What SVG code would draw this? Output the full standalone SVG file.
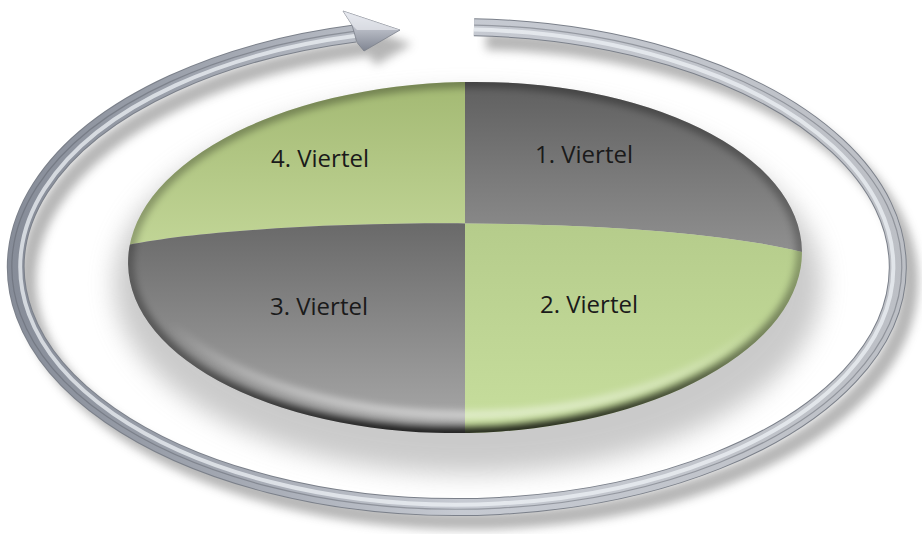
<svg xmlns="http://www.w3.org/2000/svg" xmlns:xlink="http://www.w3.org/1999/xlink" width="922" height="534" viewBox="0 0 922 534">
  <style>
    .label { font-family: "Open Sans", "Liberation Sans", sans-serif; font-size: 24px; fill: #1a1a1a; text-anchor: middle; }
    .ring { fill: none; }
  </style>
  <defs>
    <filter id="blurSoft" x="-20%" y="-30%" width="140%" height="160%"><feGaussianBlur stdDeviation="12"/></filter>
    <filter id="blurShadow" x="-10%" y="-10%" width="120%" height="120%"><feGaussianBlur stdDeviation="5"/></filter>
    <filter id="blurRim" x="-10%" y="-10%" width="120%" height="120%"><feGaussianBlur stdDeviation="3.5"/></filter>

    <clipPath id="clipDisc"><ellipse cx="465" cy="257.5" rx="337" ry="175.5" transform="rotate(-1.2 465 257.5)"/></clipPath>
    <clipPath id="clipL"><rect x="0" y="0" width="465" height="534"/></clipPath>
    <clipPath id="clipR"><rect x="465" y="0" width="457" height="534"/></clipPath>

    <path id="upper" d="M128,245 C260,218 640,212 802,252 L922,252 L922,0 L0,0 L0,245 Z"/>
    <path id="lower" d="M128,245 C260,218 640,212 802,252 L922,252 L922,534 L0,534 L0,245 Z"/>

    <linearGradient id="gQ4" gradientUnits="userSpaceOnUse" x1="0" y1="82" x2="0" y2="245">
      <stop offset="0" stop-color="#a3b973"/><stop offset="1" stop-color="#c1d596"/>
    </linearGradient>
    <linearGradient id="gQ1" gradientUnits="userSpaceOnUse" x1="0" y1="82" x2="0" y2="250">
      <stop offset="0" stop-color="#5f5f5f"/><stop offset="1" stop-color="#8f8f8f"/>
    </linearGradient>
    <linearGradient id="gQ3" gradientUnits="userSpaceOnUse" x1="0" y1="222" x2="0" y2="433">
      <stop offset="0" stop-color="#696969"/><stop offset="1" stop-color="#a9a9a9"/>
    </linearGradient>
    <linearGradient id="gQ2" gradientUnits="userSpaceOnUse" x1="0" y1="222" x2="0" y2="433">
      <stop offset="0" stop-color="#b5cc8b"/><stop offset="1" stop-color="#c7de9d"/>
    </linearGradient>
    <linearGradient id="gRim" gradientUnits="userSpaceOnUse" x1="0" y1="82" x2="0" y2="433">
      <stop offset="0" stop-color="#000" stop-opacity="0.3"/>
      <stop offset="0.5" stop-color="#000" stop-opacity="0.25"/>
      <stop offset="0.8" stop-color="#000" stop-opacity="0.45"/>
      <stop offset="1" stop-color="#000" stop-opacity="0.85"/>
    </linearGradient>
    <linearGradient id="gHi" gradientUnits="userSpaceOnUse" x1="0" y1="82" x2="0" y2="425">
      <stop offset="0" stop-color="#fff" stop-opacity="0"/>
      <stop offset="0.7" stop-color="#fff" stop-opacity="0"/>
      <stop offset="1" stop-color="#fff" stop-opacity="0.55"/>
    </linearGradient>

    <linearGradient id="gRing" gradientUnits="userSpaceOnUse" x1="0" y1="0" x2="922" y2="0">
      <stop offset="0" stop-color="#858b97"/>
      <stop offset="0.25" stop-color="#a3a8b2"/>
      <stop offset="0.5" stop-color="#c6cad2"/>
      <stop offset="1" stop-color="#bcbfc5"/>
    </linearGradient>
    <linearGradient id="gHead" gradientUnits="userSpaceOnUse" x1="0" y1="12" x2="0" y2="50">
      <stop offset="0" stop-color="#dde0e8"/>
      <stop offset="0.5" stop-color="#b3b7c1"/>
      <stop offset="1" stop-color="#838894"/>
    </linearGradient>

    <path id="ring" d="M474,27.2 A441,240 0 1 1 355,33.5"/>
    <polygon id="head" points="352,25 343,11 400,30 364,51 357,42.5"/>
  </defs>

  <rect x="0" y="0" width="922" height="534" fill="#ffffff"/>

  <!-- soft cast shadow under the disc -->
  <ellipse cx="468" cy="284" rx="354" ry="190" fill="#a8a8a8" opacity="0.6" filter="url(#blurSoft)"/>

  <!-- cycle arrow -->
  <g id="connectors">
    <g filter="url(#blurShadow)" opacity="0.5" transform="translate(12 14)">
      <use href="#ring" class="ring" stroke="#6d6d6d" stroke-width="17"/>
      <use href="#head" fill="#6d6d6d"/>
    </g>
    <use href="#ring" class="ring" stroke="#7b808a" stroke-width="18"/>
    <use href="#ring" class="ring" stroke="url(#gRing)" stroke-width="16"/>
    <use href="#ring" class="ring" stroke="#eef1f6" stroke-width="4" opacity="0.75" transform="translate(457 267) scale(0.99) translate(-457 -267)"/>
    <use href="#ring" class="ring" stroke="#5c6069" stroke-width="1.2" opacity="0.45" transform="translate(457 267) scale(1.009) translate(-457 -267)"/>
    <use href="#head" fill="url(#gHead)" stroke="#7b808a" stroke-width="0.8"/>
    <polygon points="343,11 400,30 357,30 352,25" fill="#eef0f5" opacity="0.6"/>
  </g>

  <!-- disc split into four quarters -->
  <g clip-path="url(#clipDisc)">
    <g id="q4" clip-path="url(#clipL)"><use href="#upper" fill="url(#gQ4)"/></g>
    <g id="q1" clip-path="url(#clipR)"><use href="#upper" fill="url(#gQ1)"/></g>
    <g id="q3" clip-path="url(#clipL)"><use href="#lower" fill="url(#gQ3)"/></g>
    <g id="q2" clip-path="url(#clipR)"><use href="#lower" fill="url(#gQ2)"/></g>
    <ellipse cx="465" cy="249" rx="328" ry="166" fill="none" stroke="url(#gHi)" stroke-width="8" filter="url(#blurRim)"/>
    <ellipse cx="465" cy="257.5" rx="337" ry="175.5" transform="rotate(-1.2 465 257.5)" fill="none" stroke="url(#gRim)" stroke-width="12" filter="url(#blurRim)"/>
  </g>

  <g id="label-q4"><text class="label" x="320" y="167">4. Viertel</text></g>
  <g id="label-q1"><text class="label" x="584" y="163">1. Viertel</text></g>
  <g id="label-q3"><text class="label" x="319" y="315">3. Viertel</text></g>
  <g id="label-q2"><text class="label" x="589" y="313">2. Viertel</text></g>
</svg>
